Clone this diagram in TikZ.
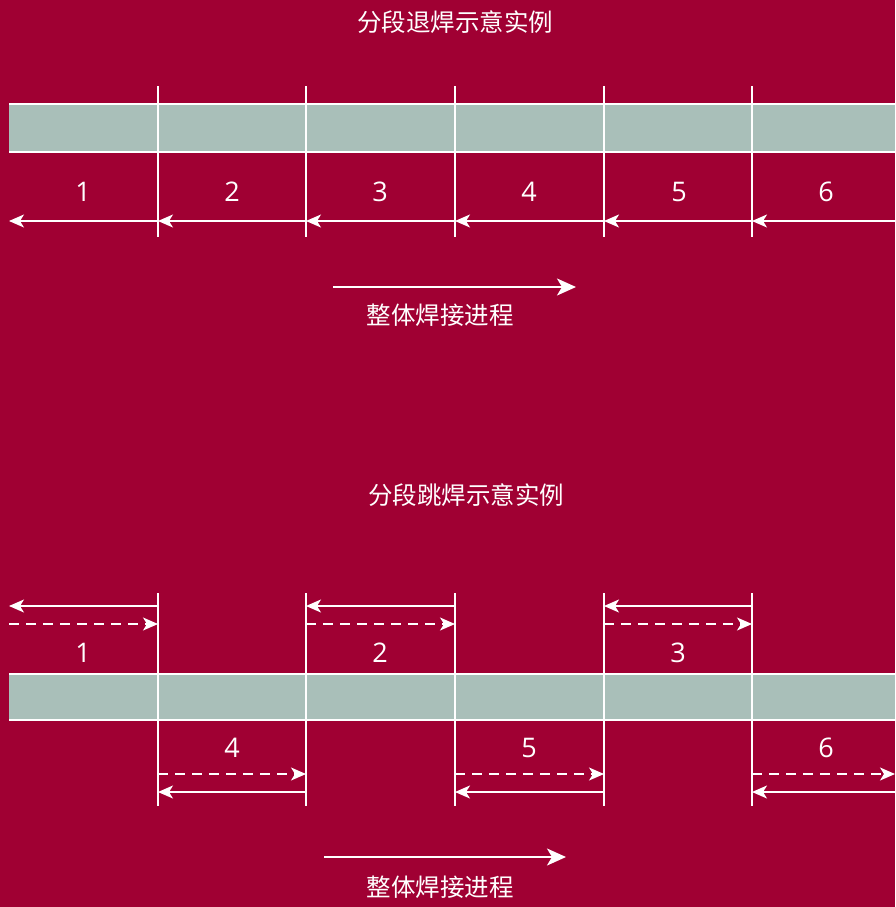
\documentclass[tikz,border=0pt]{standalone}
\usepackage{fontspec}
\setmainfont{Open Sans}
\newfontfamily\cjk{Noto Sans CJK SC}
\usetikzlibrary{arrows.meta}
\definecolor{bgred}{HTML}{A00033}
\definecolor{barcol}{HTML}{A9BFB9}
\tikzset{
  bar/.style={fill=barcol,draw=none},
  barline/.style={draw=white,line width=1.6pt},
  tick/.style={draw=white,line width=1.4pt},
  solidarr/.style={draw=white,line width=1.4pt,-{Stealth[length=15pt,width=13pt,inset=4pt]}},
  dasharr/.style={draw=white,line width=1.4pt,dash pattern=on 10pt off 7pt,-{Stealth[length=15pt,width=13pt,inset=4pt]}},
  progarr/.style={draw=white,line width=1.8pt,-{Stealth[length=19pt,width=17pt,inset=5pt]}},
  title/.style={text=white,font=\cjk\fontsize{24.5}{28}\selectfont,inner sep=0pt},
  num/.style={text=white,font=\fontsize{27}{30}\selectfont,inner sep=0pt},
}
\begin{document}
\begin{tikzpicture}[x=1pt,y=-1pt]
\fill[bgred] (0,0) rectangle (895,907);
\useasboundingbox (0,0) rectangle (895,907);

% ---------- top diagram ----------
\node[title] (t1) at (455,22) {分段退焊示意实例};
\fill[bar] (9,104) rectangle (895,152);
\coordinate (b1tl) at (9,104); \coordinate (b1tr) at (895,104);
\coordinate (b1bl) at (9,152); \coordinate (b1br) at (895,152);
\draw[barline] (b1tl) -- (b1tr);
\draw[barline] (b1bl) -- (b1br);
\foreach \x [count=\i] in {158,306,455,604,752}{
  \coordinate (ta\i) at (\x,86);
  \coordinate (tb\i) at (\x,237);
  \coordinate (tm\i) at (\x,221);
  \draw[tick] (ta\i) -- (tb\i);
}
\coordinate (tm0) at (9,221);
\coordinate (tm6) at (895,221);
\foreach \a/\b in {1/0,2/1,3/2,4/3,5/4,6/5}{
  \draw[solidarr] (tm\a) -- (tm\b);
}
\foreach \x/\n in {83/1,232/2,380/3,529/4,679/5,826/6}{
  \node[num] (tn\n) at (\x,192) {\n};
}
\coordinate (p1a) at (333,287);
\coordinate (p1b) at (576,287);
\draw[progarr] (p1a) -- (p1b);
\node[title] (pl1) at (440,315) {整体焊接进程};

% ---------- bottom diagram ----------
\node[title] (t2) at (466,495) {分段跳焊示意实例};
\fill[bar] (9,674) rectangle (895,720);
\coordinate (b2tl) at (9,674); \coordinate (b2tr) at (895,674);
\coordinate (b2bl) at (9,720); \coordinate (b2br) at (895,720);
\draw[barline] (b2tl) -- (b2tr);
\draw[barline] (b2bl) -- (b2br);
\foreach \x [count=\i] in {158,306,455,604,752}{
  \coordinate (ba\i) at (\x,593);
  \coordinate (bb\i) at (\x,806);
  \draw[tick] (ba\i) -- (bb\i);
}
% upper segments 1,2,3
\foreach \l/\r/\n/\c in {9/158/1/83,306/455/2/380,604/752/3/678}{
  \coordinate (us\n l) at (\l,606); \coordinate (us\n r) at (\r,606);
  \coordinate (ud\n l) at (\l,624); \coordinate (ud\n r) at (\r,624);
  \draw[solidarr] (us\n r) -- (us\n l);
  \draw[dasharr] (ud\n l) -- (ud\n r);
  \node[num] (bn\n) at (\c,653) {\n};
}
% lower segments 4,5,6
\foreach \l/\r/\n/\c in {158/306/4/232,455/604/5/529,752/895/6/826}{
  \coordinate (ld\n l) at (\l,774); \coordinate (ld\n r) at (\r,774);
  \coordinate (ls\n l) at (\l,792); \coordinate (ls\n r) at (\r,792);
  \draw[dasharr] (ld\n l) -- (ld\n r);
  \draw[solidarr] (ls\n r) -- (ls\n l);
  \node[num] (bn\n) at (\c,748) {\n};
}
\coordinate (p2a) at (324,857);
\coordinate (p2b) at (566,857);
\draw[progarr] (p2a) -- (p2b);
\node[title] (pl2) at (440,887) {整体焊接进程};
\end{tikzpicture}
\end{document}
